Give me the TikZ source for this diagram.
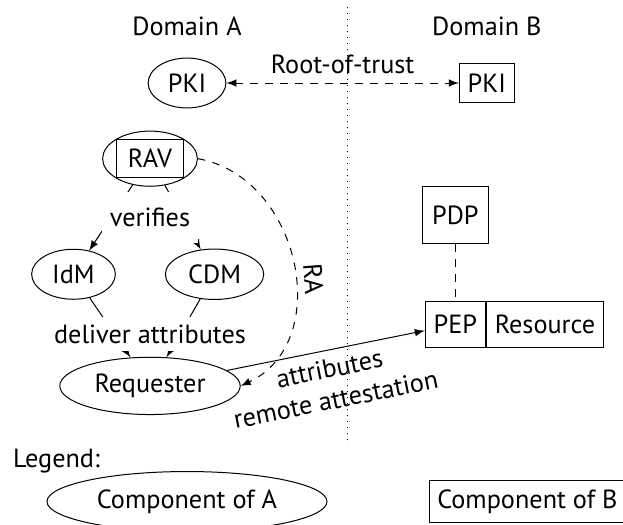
\documentclass[tikz,border=0pt]{standalone}
\usepackage{fontspec}
\setmainfont{PT Sans}
\usepackage{tikz}
\usetikzlibrary{shapes,arrows,positioning,fit,calc}

\begin{document}
\begin{tikzpicture}[
    node distance=1cm,
    font=\fontsize{10.5}{12.6}\selectfont,
    compA/.style={ellipse, draw},
    compB/.style={rectangle, draw, minimum height=18.4pt},
    arrow/.style={->,>=latex},
    lbl/.style={fill=white}
]
    \useasboundingbox (-74.8pt,33.2pt) rectangle (174.4pt,-176.4pt);

    % domain A
    \node[compA] (pkia) {PKI};
    \node[above=5pt of pkia] (doma) {Domain A};
    \node[draw, minimum width=26.4pt, minimum height=15.2pt, below=12.3pt of pkia, xshift=-14.8pt] (ravbox) {RAV};
    \node[compA, inner sep=0pt, fit=(ravbox)] (rav) {};
    \node[compA, below=24.8pt of rav, xshift=-30.6pt] (idm) {IdM};
    \node[compA, right=19.6pt of idm] (cdm) {CDM};
    \node[compA, below=68pt of rav] (req) {Requester};

    % domain B
    \node[compB, minimum height=15.6pt, right=93pt of pkia] (pkib) {PKI};
    \node[above=7.5pt of pkib] (domb) {Domain B};
    \node[compB, below=79.2pt of pkib, xshift=-12.6pt] (pep) {PEP};
    \node[compB, right=0pt of pep] (res) {Resource};
    \node[compB, minimum width=26.4pt, minimum height=22.8pt, above=22.8pt of pep] (pdp) {PDP};

    % border between the domains
    \coordinate (dtop) at (64pt,30.4pt);
    \coordinate (dbot) at (64pt,-144.8pt);
    \draw[dotted] (dtop) -- (dbot);

    \draw[arrow, <->, dashed] (pkia) -- node[above] {Root-of-trust} (pkib);
    \draw[arrow] (rav) -- (idm);
    \draw[arrow] (rav) -- (cdm);
    \draw[arrow] (idm) -- (req);
    \draw[arrow] (cdm) -- (req);
    \node[lbl, inner ysep=6.5pt] (verif) at ($(rav.south)!0.5!(rav.south |- idm.north)$) {verifies};
    \node[lbl, inner ysep=3.2pt] (deliv) at ($(req.north)!0.4!(req.north |- idm.south)$) {deliver attributes};
    \draw[arrow, dashed] (rav.east) to[out=-10, in=25, looseness=1.15] node[sloped, above, pos=0.56] {RA} (req.east);
    \draw[arrow] (req) -- node[sloped, below, align=center] {attributes\\remote attestation} (pep);
    \draw[dashed] (pdp) -- (pep);

    % legend
    \node[compA, minimum width=112pt, minimum height=24pt, below=22.4pt of req, xshift=14.8pt] (lega) {Component of A};
    \node[compB, minimum height=16.8pt, right=40.4pt of lega] (legb) {Component of B};
    \node (legend) at ($(lega)+(-52.2pt,16pt)$) {Legend:};
\end{tikzpicture}
\end{document}
